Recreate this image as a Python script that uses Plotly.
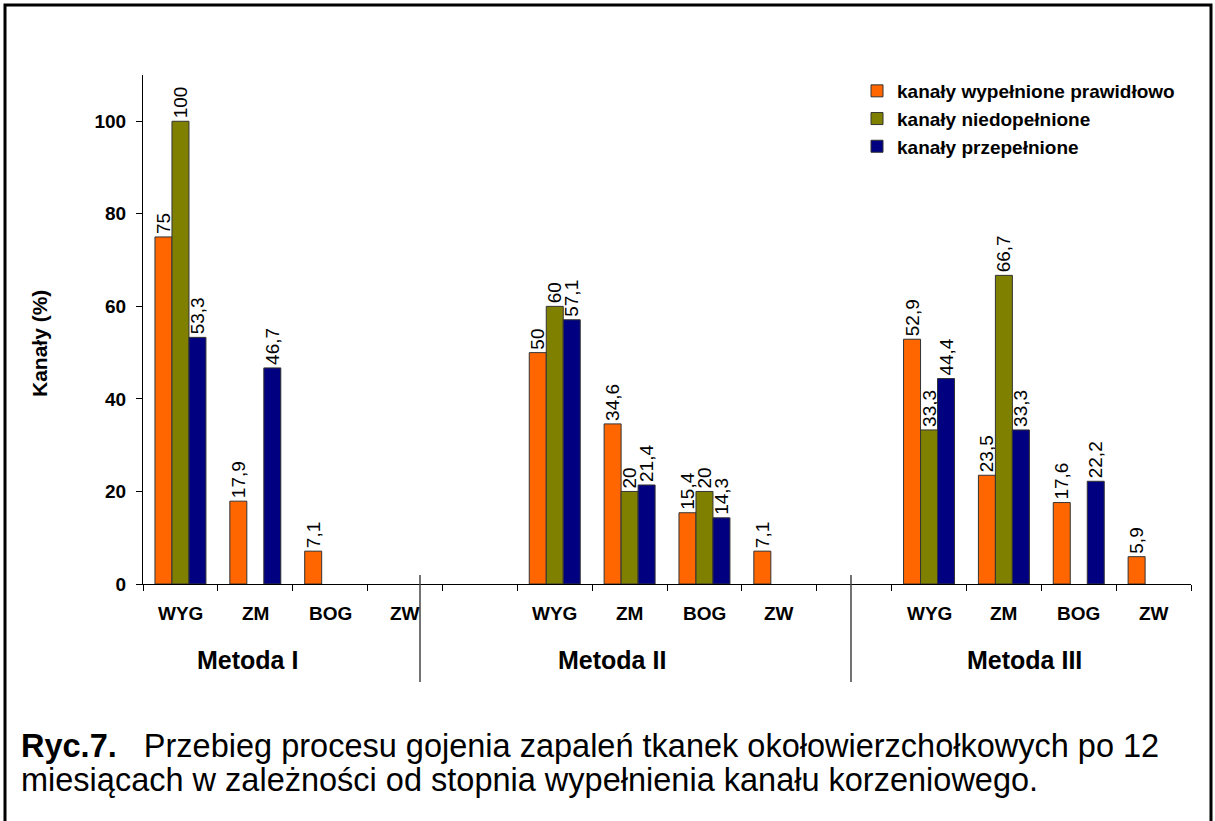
import plotly.graph_objects as go

# --- data -------------------------------------------------------------
methods = ["Metoda I", "Metoda II", "Metoda III"]
groups = ["WYG", "ZM", "BOG", "ZW"]

series_names = [
    "kanały wypełnione prawidłowo",
    "kanały niedopełnione",
    "kanały przepełnione",
]
# values per method, in the order of `groups` (None = no bar)
prawidlowo = [[75, 17.9, 7.1, None], [50, 34.6, 15.4, 7.1], [52.9, 23.5, 17.6, 5.9]]
niedopelnione = [[100, None, None, None], [60, 20, 20, None], [33.3, 66.7, None, None]]
przepelnione = [[53.3, 46.7, None, None], [57.1, 21.4, 14.3, None], [44.4, 33.3, 22.2, None]]

y_ticks = [0, 20, 40, 60, 80, 100]
y_title = "Kanały (%)"
caption_bold = "Ryc.7."
caption_line1 = "Przebieg procesu gojenia zapaleń tkanek okołowierzchołkowych po 12"
caption_line2 = "miesiącach w zależności od stopnia wypełnienia kanału korzeniowego."

colors = ["#FF6600", "#808000", "#000080"]
FONT = "Liberation Sans, Arial, sans-serif"

# --- layout geometry (slots on a numeric category axis) -------------------
SLOTS_PER_METHOD = 5          # 4 categories + one empty spacer slot
N_SLOTS = 14
BAR_W = 0.227
GROUP_OFFSET = -0.34

def fmt(v):
    return "" if v is None else f"{v:g}".replace(".", ",")

fig = go.Figure()
for k, (name, data) in enumerate(zip(series_names, [prawidlowo, niedopelnione, przepelnione])):
    xs, ys, txt = [], [], []
    for m, vals in enumerate(data):
        for g, v in enumerate(vals):
            xs.append(SLOTS_PER_METHOD * m + g + 0.5)
            ys.append(v)
            txt.append(fmt(v))
    fig.add_trace(go.Bar(
        name=f"<b>{name}</b>", x=xs, y=ys, text=txt,
        width=BAR_W, offset=GROUP_OFFSET + k * BAR_W,
        marker=dict(color=colors[k], line=dict(color="#333333", width=1)),
        textposition="outside", textangle=-90, constraintext="none",
        cliponaxis=False,
        textfont=dict(family=FONT, size=19, color="black"),
        hoverinfo="skip",
    ))

# paper-coordinate helpers (plot area: x 143..1191 px, y 75..584 px)
L, R, T, B = 143, 1191, 75, 584
def px_x(p):
    return (p - L) / (R - L)
def px_y(p):
    return (B - p) / (B - T)

annotations = []
# category labels under each slot
for m in range(len(methods)):
    for g, lab in enumerate(groups):
        annotations.append(dict(
            x=SLOTS_PER_METHOD * m + g + 0.5, xref="x", y=0, yref="paper",
            yshift=-29, yanchor="middle", xanchor="center", showarrow=False,
            text=f"<b>{lab}</b>", font=dict(family=FONT, size=19, color="black"),
        ))
# method labels
method_x = [1.39, 6.27, 11.78]
for mx, lab in zip(method_x, methods):
    annotations.append(dict(
        x=mx, xref="x", y=0, yref="paper", yshift=-76, yanchor="middle",
        xanchor="center", showarrow=False, text=f"<b>{lab}</b>",
        font=dict(family=FONT, size=25, color="black"),
    ))
# y-axis title
annotations.append(dict(
    x=px_x(39), xref="paper", y=px_y(344), yref="paper", textangle=-90,
    xanchor="center", yanchor="middle", showarrow=False,
    text=f"<b>{y_title}</b>", font=dict(family=FONT, size=21, color="black"),
))
# caption
nb = "\u00a0"
annotations.append(dict(
    x=px_x(19), xref="paper", y=px_y(746), yref="paper", xanchor="left",
    yanchor="middle", showarrow=False,
    text=f"<b>{caption_bold}</b>{nb*3}{caption_line1}",
    font=dict(family=FONT, size=32.5, color="black"),
))
annotations.append(dict(
    x=px_x(19), xref="paper", y=px_y(780), yref="paper", xanchor="left",
    yanchor="middle", showarrow=False, text=caption_line2,
    font=dict(family=FONT, size=32.5, color="black"),
))

shapes = []
# group dividers below the axis
for dx in [px_x(420), px_x(851)]:
    shapes.append(dict(type="line", xref="paper", yref="paper",
                       x0=dx, x1=dx, y0=px_y(575), y1=px_y(682),
                       line=dict(color="#444444", width=1.5)))
# outer frame
shapes.append(dict(type="rect", xref="paper", yref="paper",
                   x0=px_x(5), x1=px_x(1211), y0=px_y(840), y1=px_y(5),
                   line=dict(color="black", width=3), layer="above"))

fig.update_layout(
    width=1215, height=821,
    margin=dict(l=L, r=1215 - R, t=T, b=821 - B),
    paper_bgcolor="white", plot_bgcolor="white",
    barmode="overlay",
    showlegend=True,
    legend=dict(
        x=px_x(857), y=px_y(72), xanchor="left", yanchor="top",
        font=dict(family=FONT, size=19, color="black"),
        bgcolor="rgba(0,0,0,0)", traceorder="normal",
    ),
    xaxis=dict(
        range=[0, N_SLOTS], showgrid=False, zeroline=False,
        tickvals=list(range(N_SLOTS + 1)), ticks="outside", ticklen=6,
        tickcolor="black", showticklabels=False,
        showline=True, linecolor="black", linewidth=1,
    ),
    yaxis=dict(
        range=[0, 110], showgrid=False, zeroline=False,
        tickvals=y_ticks, ticks="outside", ticklen=6, tickcolor="black",
        ticklabelstandoff=6,
        tickfont=dict(family=FONT, size=19, color="black", weight="bold"),
        showline=True, linecolor="black", linewidth=1,
    ),
    annotations=annotations,
    shapes=shapes,
)

fig.write_html("out.html")
